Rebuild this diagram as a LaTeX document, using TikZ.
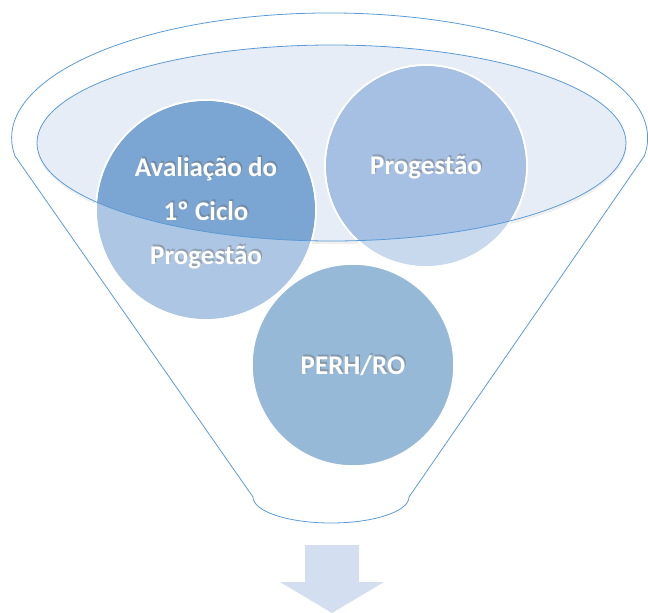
\documentclass[tikz,border=0pt]{standalone}
\usepackage{fontspec}
\setmainfont{Carlito}
\definecolor{funnelline}{HTML}{5B9BD5}
\definecolor{rimfill}{HTML}{E6EDF7}
\definecolor{leftlow}{HTML}{ADC6E3}
\definecolor{lefthigh}{HTML}{7BA5D2}
\definecolor{rightlow}{HTML}{C8D8ED}
\definecolor{righthigh}{HTML}{A5C0E3}
\definecolor{bottomcirc}{HTML}{97B9D8}
\definecolor{arrowfill}{HTML}{D3DFF0}
\tikzset{
  lbl/.style={text=white, font=\fontsize{27}{30}\selectfont\bfseries, anchor=base, inner sep=0pt},
  lblshadow/.style={text=black!60, opacity=0.4, font=\fontsize{27}{30}\selectfont\bfseries, anchor=base, inner sep=0pt},
  ball/.style={draw=white, line width=1.5pt}
}
\newcommand{\shlabel}[3]{%
  \node[lblshadow] at ([xshift=1.2pt,yshift=1.4pt]#1) {#3};
  \node[lbl] (#2) at (#1) {#3};}
\begin{document}
\begin{tikzpicture}[x=1pt,y=-1pt]
\useasboundingbox (0,0) rectangle (648,613);
% funnel outline
\draw[funnelline, line width=0.8pt]
  (253,497) -- (15,156)
  arc[start angle=171.7, end angle=368.3, x radius=318, y radius=125]
  -- (409,497)
  arc[start angle=0, end angle=180, x radius=78, y radius=26] -- cycle;
% inner rim fill with soft shadow
\fill[black!12, opacity=0.5] (332,146) ellipse[x radius=294.5, y radius=98];
\fill[rimfill] (331.5,143) ellipse[x radius=294.5, y radius=98];
% circles
\fill[ball, fill=leftlow] (206,210) circle[radius=110];
\fill[ball, fill=rightlow] (426,166) circle[radius=101];
\filldraw[ball, fill=bottomcirc] (353,365) circle[radius=101];
\draw[ball] (206,210) circle[radius=110];
\draw[ball] (426,166) circle[radius=101];
\begin{scope}
  \clip (331.5,143) ellipse[x radius=294.5, y radius=98];
  \fill[fill=lefthigh] (206,210) circle[radius=109];
  \fill[fill=righthigh] (426,166) circle[radius=100];
  \draw[ball] (206,210) circle[radius=110];
  \draw[ball] (426,166) circle[radius=101];
\end{scope}
\draw[funnelline, line width=0.8pt] (331.5,143) ellipse[x radius=294.5, y radius=98];
% labels
\shlabel{206,176}{l1}{Avaliação do}
\shlabel{206,220}{l2}{1º Ciclo}
\shlabel{206,264}{l3}{Progestão}
\shlabel{426,174}{r1}{Progestão}
\shlabel{353,374}{b1}{PERH/RO}
% arrow
\fill[arrowfill] (305,545) -- (359,545) -- (359,582) -- (384,582) -- (332,613)
  -- (280,582) -- (305,582) -- cycle;
\end{tikzpicture}
\end{document}
